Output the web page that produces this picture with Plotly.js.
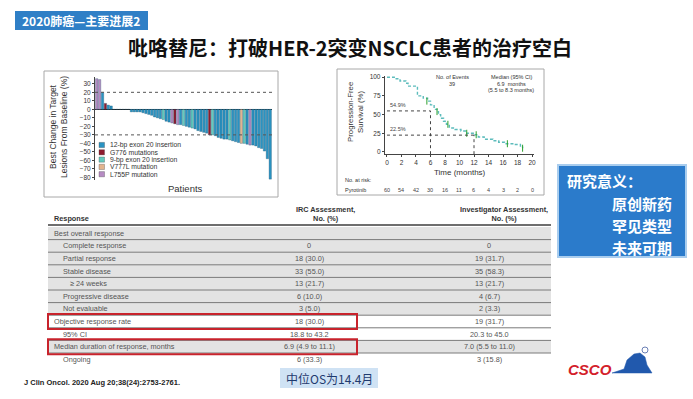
<!DOCTYPE html>
<html><head><meta charset="utf-8">
<script src="https://cdn.plot.ly/plotly-3.0.1.min.js"></script>
<style>html,body{margin:0;padding:0;background:#fff}#chart{width:693px;height:399px}</style>
</head><body><div id="chart"></div>
<script>
// ================= DATA =================
const slideTag = '2020肺癌—主要进展2';
const slideTitle = '吡咯替尼：打破HER-2突变NSCLC患者的治疗空白';

const mutationTypes = ['12-bp exon 20 insertion','G776 mutations','9-bp exon 20 insertion','V777L mutation','L755P mutation'];
// best change in target lesions per patient (%)
const waterfallValues = [36,35,20,7,5,4, 0,0,0,0,0,0,
  -3,-3,-3,-3,-4,-5,-6,-7,-9,-10,-11,-12,-14,-15,-16,-17,-18,-18,-19,-20,-21,-22,-23,-25,-26,-27,-28,-30,-30,-31,-33,-34,-35,-35,-36,-37,-38,-39,-40,-40,-41,-42,-42,-43,-45,-46,-49,-58,-82];
// mutation type index per patient
const waterfallMutation = [4,4,0,1,0,0, 0,0,2,0,0,0,
  0,0,0,0,0,0,0,0,0,0,0,2,0,0,4,1,4,0,2,0,0,2,0,0,0,0,0,1,2,0,0,0,0,0,2,0,0,0,3,2,0,4,0,0,0,0,0,0,0];
const waterfallYTicks = [30,20,10,0,-10,-20,-30,-40,-50,-60,-70,-80];
const waterfallThresholds = [20,-30];

const kmTimes =    [0,1.0,1.8,2.6,2.9,4.2,5.0,5.6,6.0,6.5,6.9,7.1,7.4,7.8,8.2,8.6,9.4,10.2,11.0,12.0,12.6,13.4,14.6,15.4,16.2,17.6,18.4,18.7];
const kmSurvival = [100,98,95,92,88,75,72,68,63,57,54,50,45,41,37,32,30,28,25,23,20,17,15,13,11,10,8,5];
const kmCensorTimes =    [5.5,6.9,8.4,11.0,12.3,16.6,18.7];
const kmCensorSurvival = [68,54,37,25,23,11,5];
const kmMilestoneTimes = [6,12];
const kmMilestoneRates = [54.9,22.5];
const kmMilestoneLabels = ['54.9%','22.5%'];
const kmXTicks = [0,2,4,6,8,10,12,14,16,18,20];
const kmYTicks = [0,25,50,75,100];
const atRiskCounts = [60,54,42,30,16,11,6,4,3,2,0];
const kmEvents = '39';
const kmMedian = ['6.9  months','(5.5 to 8.3 months)'];

const tableHeaders = ['Response','IRC Assessment,<br>No. (%)','Investigator Assessment,<br>No. (%)'];
const responseRows = ['Best overall response','Complete response','Partial response','Stable disease','≥ 24 weeks','Progressive disease','Not evaluable','Objective response rate','95% CI','Median duration of response, months','Ongoing'];
const ircValues = ['','0','18 (30.0)','33 (55.0)','13 (21.7)','6 (10.0)','3 (5.0)','18 (30.0)','18.8 to 43.2','6.9 (4.9 to 11.1)','6 (33.3)'];
const invValues = ['','0','19 (31.7)','35 (58.3)','13 (21.7)','4 (6.7)','2 (3.3)','19 (31.7)','20.3 to 45.0','7.0 (5.5 to 11.0)','3 (15.8)'];
const highlightedRows = [7,9];

const significanceTitle = '研究意义：';
const significanceLines = ['原创新药','罕见类型','未来可期'];
const osNote = '中位OS为14.4月';
const citation = 'J Clin Oncol. 2020 Aug 20;38(24):2753-2761.';

// ================= STYLE / LAYOUT =================
const W = 693, H = 399;
const X = p => p / W, Y = p => 1 - p / H;
const SANS = 'Liberation Sans, Arial, sans-serif';
const CJK = 'Noto Sans CJK SC, sans-serif';
const mutationColors = ['#2a93c2','#8e1b2e','#63cbbf','#e2b48e','#b68bc3'];
const rowIndent = [0,1,1,1,2,1,1,0,1,0,1];
const rowFill = ['#e3e3e3','#e3e3e3','#e3e3e3','#e3e3e3','#e3e3e3','#e3e3e3','#e3e3e3','#ffffff','#ffffff','#e3e3e3','#ffffff'];

const shapes = [], annotations = [];
function txt(x, y, text, size, opts = {}) {
  annotations.push(Object.assign({xref:'paper', yref:'paper', x:X(x), y:Y(y), text, showarrow:false,
    xanchor:'center', yanchor:'middle', font:{family:SANS, size, color:'#333'}}, opts,
    {font:Object.assign({family:SANS, size, color:'#333'}, opts.font || {})}));
}
function rect(x0, y0, x1, y1, fill, line, lw) {
  shapes.push({type:'rect', xref:'paper', yref:'paper', x0:X(x0), x1:X(x1), y0:Y(y1), y1:Y(y0),
    fillcolor:fill || 'rgba(0,0,0,0)', line:{color:line || 'rgba(0,0,0,0)', width:lw || 0}, layer:'below'});
}
function hline(x0, x1, y, color, w) {
  shapes.push({type:'line', xref:'paper', yref:'paper', x0:X(x0), x1:X(x1), y0:Y(y), y1:Y(y), line:{color, width:w}});
}

// header tag + title
rect(15, 11, 148, 30, '#2f7fc6');
txt(81, 21, '<b>' + slideTag + '</b>', 12, {font:{family:CJK, color:'#fff'}});
txt(350, 47, '<b>' + slideTitle + '</b>', 20, {font:{family:CJK, color:'#111'}});

// panel frames
rect(44, 71, 278, 197, null, '#a8a8a8', 1);
rect(337, 69, 544, 195, null, '#a8a8a8', 1);

// waterfall
const wfX = waterfallValues.map((_, i) => i + 1);
const wfColors = waterfallMutation.map(k => mutationColors[k]);
waterfallThresholds.forEach(v => shapes.push({type:'line', xref:'x', yref:'y', x0:0.4, x1:waterfallValues.length + 0.6,
  y0:v, y1:v, line:{color:'#555', width:1, dash:'dot'}}));
txt(58, 127, 'Best Change in Target<br>Lesions From Baseline (%)', 8.5, {textangle:-90});
txt(185, 188, 'Patients', 9.5);
mutationTypes.forEach((m, i) => {
  const yy = 145 + i * 7.3;
  rect(99, yy - 2.6, 104.5, yy + 2.6, mutationColors[i], '#333', 0.3);
  txt(107.5, yy, m, 6.8, {xanchor:'left'});
});

// KM annotations
kmMilestoneTimes.forEach((t, i) => {
  const r = kmMilestoneRates[i];
  shapes.push({type:'line', xref:'x2', yref:'y2', x0:0, x1:t, y0:r, y1:r, line:{color:'#444', width:1, dash:'dot'}});
  shapes.push({type:'line', xref:'x2', yref:'y2', x0:t, x1:t, y0:-3, y1:r, line:{color:'#444', width:1, dash:'dot'}});
  annotations.push({xref:'x2', yref:'y2', x:0.2, y:r + 1, text:kmMilestoneLabels[i], showarrow:false,
    xanchor:'left', yanchor:'bottom', font:{family:SANS, size:5.5, color:'#444'}});
});
txt(452, 77, 'No. of Events', 5.5);
txt(452, 84, kmEvents, 5.5);
txt(511, 77, 'Median (95% CI)', 5.5);
txt(511, 84, kmMedian[0], 5.5);
txt(511, 90, kmMedian[1], 5.5);
txt(460, 173, 'Time (months)', 8);
txt(355, 112, 'Progression-Free<br>Survival (%)', 7.8, {textangle:-90});
txt(343, 180, 'No. at risk:', 5.5, {xanchor:'left'});
txt(343, 190, 'Pyrotinib', 5.5, {xanchor:'left'});
kmXTicks.forEach((t, i) => annotations.push({xref:'x2', yref:'paper', x:t, y:Y(190), text:String(atRiskCounts[i]),
  showarrow:false, xanchor:'center', yanchor:'middle', font:{family:SANS, size:5.5, color:'#444'}}));

// table
const rowTop0 = 227, rowH = 12.6, tL = 48, tR = 551;
txt(52, 218, '<b>' + tableHeaders[0] + '</b>', 7.3, {xanchor:'left'});
txt(325, 214, '<b>' + tableHeaders[1] + '</b>', 7.3);
txt(504, 214, '<b>' + tableHeaders[2] + '</b>', 7.3);
hline(tL, tR, 225, '#6e6e6e', 2);
responseRows.forEach((r, i) => {
  const top = rowTop0 + i * rowH, cy = top + rowH / 2;
  rect(tL, top, tR, top + rowH, rowFill[i]);
  if (i < responseRows.length - 1) hline(tL, tR, top + rowH, '#7a7a7a', 1);
  txt(52 + [0, 9, 16][rowIndent[i]], cy, r, 7.3, {xanchor:'left', font:{color:'#555'}});
  txt(309, cy, ircValues[i], 7.3, {font:{color:'#555'}});
  txt(489, cy, invValues[i], 7.3, {font:{color:'#555'}});
});
highlightedRows.forEach(i => {
  const cy = rowTop0 + i * rowH + rowH / 2;
  shapes.push({type:'rect', xref:'paper', yref:'paper', x0:X(48), x1:X(357), y0:Y(cy + 7.5), y1:Y(cy - 7.5),
    line:{color:'#c8232c', width:2}});
});

// significance box
rect(558, 165, 686, 257, '#2b7bcb', '#a9cdee', 2);
txt(565, 181, '<b>' + significanceTitle + '</b>', 15, {xanchor:'left', font:{family:CJK, color:'#fff'}});
significanceLines.forEach((s, i) => txt(674, 203 + i * 22, '<b>' + s + '</b>', 15, {xanchor:'right', font:{family:CJK, color:'#fff'}}));

// OS note, citation
rect(280, 368, 378, 388, '#cfe2f4');
txt(329, 378, osNote, 12, {font:{family:CJK, color:'#1f3a6e'}});
txt(22, 382, '<b>' + citation + '</b>', 7.5, {xanchor:'left', font:{color:'#222'}});

// CSCO logo
txt(590, 369, '<b><i>CSCO</i></b>', 15, {font:{family:SANS, color:'#d3202a'}});
shapes.push({type:'path', xref:'paper', yref:'paper', fillcolor:'#2159ad', line:{color:'#2159ad', width:0.5},
  path:`M ${X(612)} ${Y(373)} L ${X(624)} ${Y(369)} L ${X(627)} ${Y(360)} L ${X(634)} ${Y(354)} L ${X(640)} ${Y(353)} L ${X(645)} ${Y(357)} L ${X(647)} ${Y(365)} L ${X(652)} ${Y(373)} Z`});
shapes.push({type:'circle', xref:'paper', yref:'paper', x0:X(642), x1:X(648), y0:Y(353), y1:Y(347), line:{color:'#6a7fb5', width:1}});

const traces = [
  {type:'bar', x:wfX, y:waterfallValues, xaxis:'x', yaxis:'y', marker:{color:wfColors, line:{color:'#1b4f6b', width:0.3}},
   showlegend:false, hoverinfo:'skip'},
  {type:'scatter', mode:'lines', x:kmTimes, y:kmSurvival, xaxis:'x2', yaxis:'y2', line:{shape:'hv', color:'#5cbcbc', width:1.4, dash:'3px,2px'},
   showlegend:false, hoverinfo:'skip'},
  {type:'scatter', mode:'markers', x:kmCensorTimes, y:kmCensorSurvival, xaxis:'x2', yaxis:'y2',
   marker:{symbol:'line-ns-open', size:5, line:{color:'#333', width:1}}, showlegend:false, hoverinfo:'skip'}
];

const layout = {
  width:W, height:H, margin:{l:0, r:0, t:0, b:0}, paper_bgcolor:'#fff', plot_bgcolor:'rgba(0,0,0,0)',
  font:{family:SANS, color:'#333'}, bargap:0.18, showlegend:false,
  xaxis:{domain:[X(95), X(272)], range:[0.4, waterfallValues.length + 0.6], showticklabels:false, ticks:'', showline:false,
    showgrid:false, zeroline:false, fixedrange:true},
  yaxis:{domain:[Y(180), Y(77)], range:[-83, 38], tickvals:waterfallYTicks, ticks:'outside', ticklen:2, tickfont:{size:6.5, color:'#333'},
    showline:true, linecolor:'#444', linewidth:1, showgrid:false, zeroline:true, zerolinecolor:'#222', zerolinewidth:1, fixedrange:true},
  xaxis2:{domain:[X(384.8), X(534.2)], range:[-0.3, 20.3], anchor:'y2', tickvals:kmXTicks, ticks:'outside', ticklen:2,
    tickfont:{size:6.5, color:'#333'}, showline:true, linecolor:'#444', showgrid:false, zeroline:false},
  yaxis2:{domain:[Y(154.2), Y(75.7)], range:[-3, 102], anchor:'x2', tickvals:kmYTicks, ticks:'outside', ticklen:2,
    tickfont:{size:6.5, color:'#333'}, showline:true, linecolor:'#444', showgrid:false, zeroline:false},
  shapes, annotations
};
Plotly.newPlot('chart', traces, layout, {staticPlot:true, displayModeBar:false});
</script></body></html>
